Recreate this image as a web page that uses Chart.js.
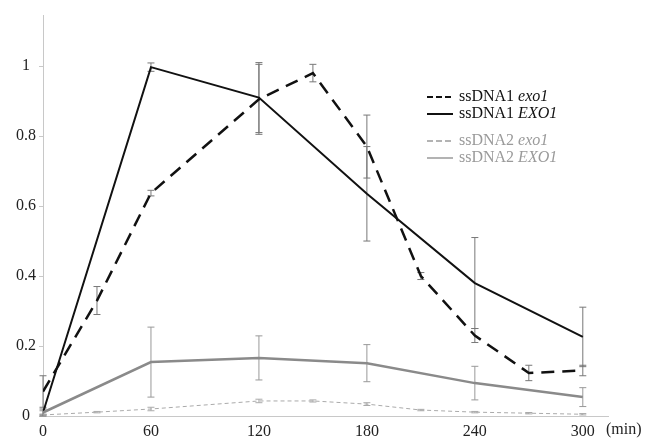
<!DOCTYPE html>
<html>
<head>
<meta charset="utf-8">
<script src="https://cdn.jsdelivr.net/npm/chart.js@4.4.1/dist/chart.umd.min.js"></script>
<style>
  html, body { margin: 0; padding: 0; background: #fff; }
  #wrap { width: 650px; height: 442px; }
</style>
</head>
<body>
<div id="wrap"><canvas id="ssChart" width="650" height="442"></canvas></div>
<script>
// time points (min)
const timesFine = [0, 30, 60, 120, 150, 180, 210, 240, 270, 300];
const timesCoarse = [0, 60, 120, 180, 240, 300];

// ssDNA1 exo1 (dashed black)
const ss1Exo1 = [0.07, 0.33, 0.637, 0.905, 0.98, 0.77, 0.40, 0.23, 0.123, 0.13];
const ss1Exo1Err = [0.045, 0.04, 0.008, 0.1, 0.025, 0.09, 0.01, 0.02, 0.022, 0.015];
// ssDNA1 EXO1 (solid black)
const ss1EXO1 = [0.01, 0.997, 0.91, 0.635, 0.38, 0.226];
const ss1EXO1Err = [0.01, 0.012, 0.1, 0.135, 0.13, 0.085];
// ssDNA2 exo1 (dashed grey)
const ss2Exo1 = [0.003, 0.011, 0.02, 0.043, 0.043, 0.034, 0.017, 0.011, 0.008, 0.005];
const ss2Exo1Err = [0.002, 0.002, 0.005, 0.005, 0.003, 0.004, 0.002, 0.002, 0.002, 0.002];
// ssDNA2 EXO1 (solid grey)
const ss2EXO1 = [0.01, 0.154, 0.166, 0.151, 0.094, 0.054];
const ss2EXO1Err = [0.005, 0.1, 0.063, 0.053, 0.048, 0.027];

const xTicks = [0, 60, 120, 180, 240, 300];
const yTicks = [0, 0.2, 0.4, 0.6, 0.8, 1];

const legendItems = [
  { name: 'ssDNA1 ', gene: 'exo1', color: '#111', dash: [6, 3] },
  { name: 'ssDNA1 ', gene: 'EXO1', color: '#111', dash: [] },
  null,
  { name: 'ssDNA2 ', gene: 'exo1', color: '#9a9a9a', dash: [6, 3] },
  { name: 'ssDNA2 ', gene: 'EXO1', color: '#9a9a9a', dash: [] }
];

const SERIF = '"Liberation Serif", "DejaVu Serif", serif';

function pts(xs, ys) {
  return xs.map((x, i) => ({ x, y: ys[i] }));
}

const errorBars = {
  id: 'errorBars',
  beforeDatasetsDraw(chart) {
    const { ctx, scales: { x, y } } = chart;
    ctx.save();
    chart.data.datasets.forEach(ds => {
      ctx.strokeStyle = ds.errColor;
      ctx.lineWidth = 1;
      ds.data.forEach((p, i) => {
        const e = ds.err[i];
        const px = x.getPixelForValue(p.x);
        const top = y.getPixelForValue(p.y + e);
        const bot = y.getPixelForValue(Math.max(p.y - e, 0));
        ctx.beginPath();
        ctx.moveTo(px, top); ctx.lineTo(px, bot);
        ctx.moveTo(px - 3.5, top); ctx.lineTo(px + 3.5, top);
        ctx.moveTo(px - 3.5, bot); ctx.lineTo(px + 3.5, bot);
        ctx.stroke();
      });
    });
    ctx.restore();
  }
};

const extras = {
  id: 'extras',
  afterDraw(chart) {
    const { ctx, chartArea } = chart;
    ctx.save();
    // legend
    let ly = chartArea.top + 82;
    const lx = chartArea.left + 384;
    legendItems.forEach(item => {
      if (!item) { ly += 10; return; }
      ctx.strokeStyle = item.color;
      ctx.lineWidth = item.color === '#111' ? 2 : 1.5;
      ctx.setLineDash(item.dash);
      ctx.beginPath();
      ctx.moveTo(lx, ly); ctx.lineTo(lx + 26, ly);
      ctx.stroke();
      ctx.setLineDash([]);
      ctx.fillStyle = item.color;
      ctx.textBaseline = 'middle';
      ctx.font = '16px ' + SERIF;
      ctx.fillText(item.name, lx + 32, ly);
      const w = ctx.measureText(item.name).width;
      ctx.font = 'italic 16px ' + SERIF;
      ctx.fillText(item.gene, lx + 32 + w, ly);
      ly += 17;
    });
    // x unit
    ctx.font = '16px ' + SERIF;
    ctx.fillStyle = '#222';
    ctx.textBaseline = 'middle';
    ctx.fillText('(min)', chartArea.right - 2, chartArea.bottom + 14);
    ctx.restore();
  }
};

new Chart(document.getElementById('ssChart'), {
  type: 'line',
  data: {
    datasets: [
      {
        label: 'ssDNA2 exo1',
        data: pts(timesFine, ss2Exo1), err: ss2Exo1Err, errColor: '#aaa',
        borderColor: '#aaa', borderWidth: 1, borderDash: [4, 3]
      },
      {
        label: 'ssDNA2 EXO1',
        data: pts(timesCoarse, ss2EXO1), err: ss2EXO1Err, errColor: '#999',
        borderColor: '#8a8a8a', borderWidth: 2.5
      },
      {
        label: 'ssDNA1 exo1',
        data: pts(timesFine, ss1Exo1), err: ss1Exo1Err, errColor: '#777',
        borderColor: '#111', borderWidth: 2.5, borderDash: [13, 8]
      },
      {
        label: 'ssDNA1 EXO1',
        data: pts(timesCoarse, ss1EXO1), err: ss1EXO1Err, errColor: '#777',
        borderColor: '#111', borderWidth: 2
      }
    ]
  },
  options: {
    responsive: false,
    animation: false,
    layout: { padding: { top: 15, right: 42, left: 0, bottom: 0 } },
    elements: { point: { radius: 0 }, line: { tension: 0 } },
    plugins: { legend: { display: false }, tooltip: { enabled: false } },
    scales: {
      x: {
        type: 'linear', min: 0, max: 314,
        afterBuildTicks: s => { s.ticks = xTicks.map(v => ({ value: v })); },
        afterFit: s => { s.height = 26; },
        grid: { drawOnChartArea: false, drawTicks: false },
        border: { color: '#c8c8c8', width: 1 },
        ticks: { padding: 6, color: '#222', font: { family: SERIF, size: 16 } }
      },
      y: {
        min: 0, max: 1.146,
        afterBuildTicks: s => { s.ticks = yTicks.map(v => ({ value: v })); },
        afterFit: s => { s.width = 43; },
        grid: { drawOnChartArea: false, drawTicks: true, tickLength: 4, color: '#c8c8c8' },
        border: { color: '#c8c8c8', width: 1 },
        ticks: {
          padding: 3, crossAlign: 'center', color: '#222',
          font: { family: SERIF, size: 16 },
          callback: v => String(Math.round(v * 10) / 10)
        }
      }
    }
  },
  plugins: [errorBars, extras]
});
</script>
</body>
</html>
